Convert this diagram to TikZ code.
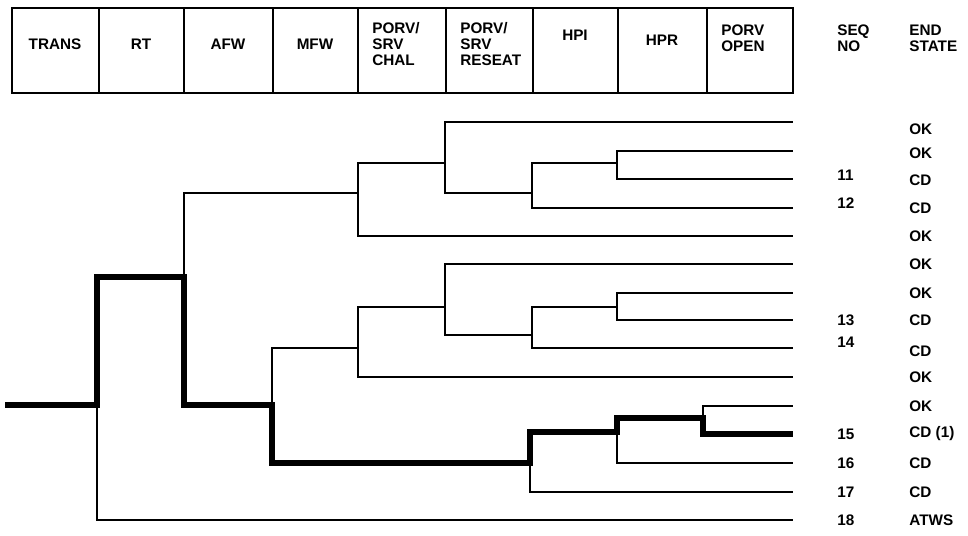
\documentclass[tikz,border=0pt]{standalone}
\usepackage{fontspec}
\setmainfont{Liberation Sans}
\usetikzlibrary{calc}

\begin{document}
\begin{tikzpicture}[x=0.02cm,y=-0.02cm,
  branch/.style={line width=1.1pt},
  accident/.style={line width=3.8pt},
  frame/.style={line width=1.3pt},
  lbl/.style={font=\fontsize{8.7}{9.3}\selectfont\bfseries,inner sep=0pt,align=left}]

  \useasboundingbox (0,0) rectangle (968,536);

  % event headings
  \draw[frame] (12,8) rectangle (793,93);
  \foreach \x in {99,184,273,358,446,533,618,707}
    \draw[frame] (\x,8) -- (\x,93);

  \node[lbl] (trans) at (55,44) {TRANS};
  \node[lbl] (rt) at (141,44) {RT};
  \node[lbl] (afw) at (228,44) {AFW};
  \node[lbl] (mfw) at (315,44) {MFW};
  \node[lbl,anchor=west] (chal) at (372,44) {PORV/\\SRV\\CHAL};
  \node[lbl,anchor=west] (reseat) at (460,44) {PORV/\\SRV\\RESEAT};
  \node[lbl] (hpi) at (575,35) {HPI};
  \node[lbl] (hpr) at (662,40) {HPR};
  \node[lbl,anchor=west] (open) at (721,38) {PORV\\OPEN};
  \node[lbl,anchor=west] (seqno) at (837,38) {SEQ\\NO};
  \node[lbl,anchor=west] (endstate) at (909,38) {END\\STATE};

  % end points of the sequences
  \foreach \i/\y in {1/122,2/151,3/179,4/208,5/236,6/264,7/293,8/320,
                     9/348,10/377,11/406,12/434,13/463,14/492,15/520}
    \coordinate (e\i) at (793,\y);

  % branch points
  \coordinate (start) at (5,405);
  \coordinate (tr) at (97,405);
  \coordinate (afwpt) at (184,277);
  \coordinate (mfw1) at (358,193);
  \coordinate (mfw2) at (272,405);
  \coordinate (rs1) at (445,163);
  \coordinate (hpi1) at (532,193);
  \coordinate (hpr1) at (617,163);
  \coordinate (ch2) at (358,348);
  \coordinate (rs2) at (445,307);
  \coordinate (hpi2) at (532,335);
  \coordinate (hpr2) at (617,307);
  \coordinate (hpi3) at (530,463);
  \coordinate (hpr3) at (617,432);
  \coordinate (po) at (703,418);

  % upper branches
  \draw[branch] (afwpt) |- (mfw1);
  \draw[branch] (mfw1) |- (rs1);
  \draw[branch] (mfw1) |- (e5);
  \draw[branch] (rs1) |- (e1);
  \draw[branch] (rs1) |- (hpi1);
  \draw[branch] (hpi1) |- (hpr1);
  \draw[branch] (hpi1) |- (e4);
  \draw[branch] (hpr1) |- (e2);
  \draw[branch] (hpr1) |- (e3);

  % middle branches
  \draw[branch] (mfw2) |- (ch2);
  \draw[branch] (ch2) |- (rs2);
  \draw[branch] (ch2) |- (e10);
  \draw[branch] (rs2) |- (e6);
  \draw[branch] (rs2) |- (hpi2);
  \draw[branch] (hpi2) |- (hpr2);
  \draw[branch] (hpi2) |- (e9);
  \draw[branch] (hpr2) |- (e7);
  \draw[branch] (hpr2) |- (e8);

  % lower branches
  \draw[branch] (tr) |- (e15);
  \draw[branch] (hpi3) |- (e14);
  \draw[branch] (hpr3) |- (e13);
  \draw[branch] (po) |- (e11);

  % dominant sequence
  \draw[accident] (start) -- (tr) |- (afwpt) |- (mfw2) |- (hpi3) |- (hpr3) |- (po) |- (e12);

  % sequence numbers
  \node[lbl,anchor=west] (q11) at (837,175) {11};
  \node[lbl,anchor=west] (q12) at (837,203) {12};
  \node[lbl,anchor=west] (q13) at (837,320) {13};
  \node[lbl,anchor=west] (q14) at (837,342) {14};
  \node[lbl,anchor=west] (q15) at (837,434) {15};
  \node[lbl,anchor=west] (q16) at (837,463) {16};
  \node[lbl,anchor=west] (q17) at (837,492) {17};
  \node[lbl,anchor=west] (q18) at (837,520) {18};

  % end states
  \foreach \i/\y/\t in {1/129/OK,2/153/OK,3/180/CD,4/208/CD,5/236/OK,6/264/OK,
                        7/293/OK,8/320/CD,9/351/CD,10/377/OK,11/406/OK,
                        12/434/CD (1),13/463/CD,14/492/CD,15/520/ATWS}
    \node[lbl,anchor=west] (s\i) at (909,\y) {\t};

\end{tikzpicture}
\end{document}
